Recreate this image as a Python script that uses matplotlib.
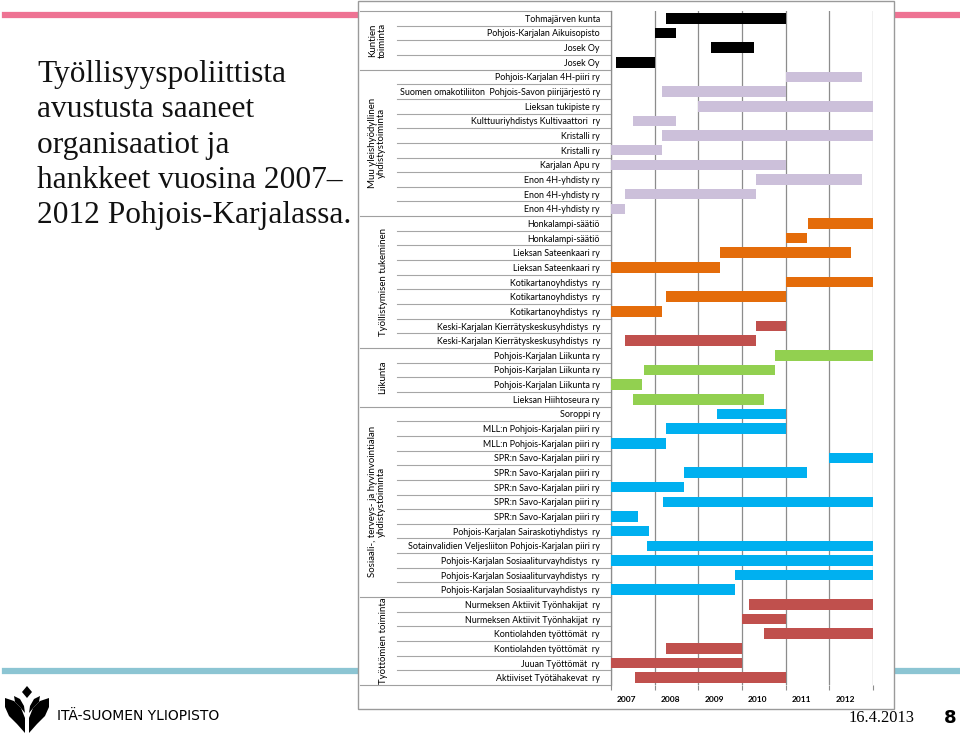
import matplotlib
matplotlib.use('Agg')
import matplotlib.pyplot as plt
from matplotlib.patches import Rectangle, Polygon
from matplotlib.lines import Line2D
from matplotlib.transforms import blended_transform_factory

# Groups (top to bottom) and how many rows each one holds
groups = ['Kuntien\ntoiminta',
          'Muu yleishyödyllinen\nyhdistystoiminta',
          'Työllistymisen tukeminen',
          'Liikunta',
          'Sosiaali-, terveys- ja hyvinvointialan\nyhdistystoiminta',
          'Työttömien toiminta']
group_sizes = [4, 10, 9, 4, 13, 6]

organisations = [
    'Tohmajärven kunta', 'Pohjois-Karjalan Aikuisopisto', 'Josek Oy', 'Josek Oy',
    'Pohjois-Karjalan 4H-piiri ry', 'Suomen omakotiliiton  Pohjois-Savon piirijärjestö ry',
    'Lieksan tukipiste ry', 'Kulttuuriyhdistys Kultivaattori  ry', 'Kristalli ry', 'Kristalli ry',
    'Karjalan Apu ry', 'Enon 4H-yhdisty ry', 'Enon 4H-yhdisty ry', 'Enon 4H-yhdisty ry',
    'Honkalampi-säätiö', 'Honkalampi-säätiö', 'Lieksan Sateenkaari ry', 'Lieksan Sateenkaari ry',
    'Kotikartanoyhdistys  ry', 'Kotikartanoyhdistys  ry', 'Kotikartanoyhdistys  ry',
    'Keski-Karjalan Kierrätyskeskusyhdistys  ry', 'Keski-Karjalan Kierrätyskeskusyhdistys  ry',
    'Pohjois-Karjalan Liikunta ry', 'Pohjois-Karjalan Liikunta ry', 'Pohjois-Karjalan Liikunta ry',
    'Lieksan Hiihtoseura ry',
    'Soroppi ry', 'MLL:n Pohjois-Karjalan piiri ry', 'MLL:n Pohjois-Karjalan piiri ry',
    'SPR:n Savo-Karjalan piiri ry', 'SPR:n Savo-Karjalan piiri ry', 'SPR:n Savo-Karjalan piiri ry',
    'SPR:n Savo-Karjalan piiri ry', 'SPR:n Savo-Karjalan piiri ry',
    'Pohjois-Karjalan Sairaskotiyhdistys  ry', 'Sotainvalidien Veljesliiton Pohjois-Karjalan piiri ry',
    'Pohjois-Karjalan Sosiaaliturvayhdistys  ry', 'Pohjois-Karjalan Sosiaaliturvayhdistys  ry',
    'Pohjois-Karjalan Sosiaaliturvayhdistys  ry',
    'Nurmeksen Aktiivit Työnhakijat  ry', 'Nurmeksen Aktiivit Työnhakijat  ry',
    'Kontiolahden työttömät  ry', 'Kontiolahden työttömät  ry', 'Juuan Työttömät  ry',
    'Aktiiviset Työtähakevat  ry']

# Funding periods in decimal years
starts = [2008.25, 2008.0, 2009.3, 2007.12,
          2011.0, 2008.16, 2009.0, 2007.5, 2008.16, 2007.0, 2007.0, 2010.33, 2007.33, 2007.0,
          2011.5, 2011.0, 2009.5, 2007.0, 2011.0, 2008.25, 2007.0, 2010.33, 2007.33,
          2010.75, 2007.75, 2007.0, 2007.5,
          2009.42, 2008.25, 2007.0, 2012.0, 2008.67, 2007.0, 2008.2, 2007.0, 2007.0, 2007.83,
          2007.0, 2009.83, 2007.0,
          2010.16, 2010.0, 2010.5, 2008.25, 2007.0, 2007.55]
ends = [2011.0, 2008.5, 2010.27, 2008.0,
        2012.75, 2011.0, 2013.0, 2008.5, 2013.0, 2008.16, 2011.0, 2012.75, 2010.33, 2007.33,
        2013.0, 2011.5, 2012.5, 2009.5, 2013.0, 2011.0, 2008.16, 2011.0, 2010.33,
        2013.0, 2010.75, 2007.7, 2010.5,
        2011.0, 2011.0, 2008.25, 2013.0, 2011.5, 2008.67, 2013.0, 2007.62, 2007.88, 2013.0,
        2013.0, 2013.0, 2009.83,
        2013.0, 2011.0, 2013.0, 2010.0, 2010.0, 2011.0]

# Kind of activity of every row, used to pick the bar colour
kinds = (['kunta'] * 4 + ['yleis'] * 10 + ['tyo'] * 7 + ['kierratys'] * 2
         + ['liikunta'] * 4 + ['sosiaali'] * 13 + ['tyottomat'] * 6)

years = [2007, 2008, 2009, 2010, 2011, 2012]

palette = {'kunta': '#000000', 'yleis': '#ccc0da', 'tyo': '#e46c0a',
           'kierratys': '#c0504d', 'liikunta': '#92d050', 'sosiaali': '#00b0f0',
           'tyottomat': '#c0504d'}

W, H = 960, 738
fig = plt.figure(figsize=(W / 100, H / 100), dpi=100)
fig.patch.set_facecolor('white')


def fx(px):
    return px / W


def fy(py):
    return 1 - py / H


# Slide decoration: pink band on top, blue band at bottom, white chart box
fig.add_artist(Line2D([fx(5), fx(957)], [fy(15), fy(15)], color='#ee7393', lw=4.5, zorder=-3))
fig.add_artist(Line2D([fx(5), fx(957)], [fy(671), fy(671)], color='#8cc5d3', lw=4.5, zorder=-3))
fig.add_artist(Rectangle((fx(358), fy(709)), fx(894) - fx(358), fy(1) - fy(709),
                         facecolor='white', edgecolor='#9a9a9a', lw=1.0, zorder=-2))

title_lines = ['Työllisyyspoliittista', 'avustusta saaneet', 'organisaatiot ja',
               'hankkeet vuosina 2007–', '2012 Pohjois-Karjalassa.']
for i, line in enumerate(title_lines):
    fig.text(fx(37), fy(82 + i * 35.3), line, family='Liberation Serif', fontsize=22.6,
             va='baseline', ha='left', color='#111111')

fig.text(fx(915), fy(718), '16.4.2013', family='Liberation Serif', fontsize=11.8,
         ha='right', va='center')
fig.text(fx(950), fy(718), '8', family='DejaVu Sans', fontsize=13, fontweight='bold',
         ha='center', va='center')
fig.text(fx(57), fy(716), 'ITÄ-SUOMEN YLIOPISTO', family='DejaVu Sans', fontsize=10,
         ha='left', va='center')

# Rough university logo
logo_shapes = [
    [(27, 686), (32, 692), (27, 698), (22, 692)],
    [(5, 698), (14, 701), (21, 708), (25, 718), (25, 733), (17, 724), (9, 716), (5, 707)],
    [(49, 698), (40, 701), (33, 708), (29, 718), (29, 733), (37, 724), (45, 716), (49, 707)],
    [(14, 696), (20, 699), (24, 706), (25, 713), (20, 707), (15, 702)],
    [(40, 696), (34, 699), (30, 706), (29, 713), (34, 707), (39, 702)],
]
for shape in logo_shapes:
    fig.add_artist(Polygon([(fx(x), fy(y)) for x, y in shape], closed=True,
                           facecolor='black', edgecolor='none'))

# Chart area
ax = fig.add_axes([fx(611), fy(685), fx(873) - fx(611), fy(11) - fy(685)])
n = len(organisations)
rows = list(range(n))
ax.barh(rows, [e - s for s, e in zip(starts, ends)], left=starts, height=0.72,
        color=[palette[k] for k in kinds], zorder=3)

ax.set_xlim(2007, 2013)
ax.set_ylim(n - 0.5, -0.5)

ax.set_xticks(list(range(2007, 2014)))
ax.set_xticklabels([])
ax.set_xticks([y + 0.36 for y in years], minor=True)
ax.set_xticklabels([str(y) for y in years], minor=True, fontsize=6, fontweight='bold',
                   family='Lato')
ax.tick_params(axis='x', which='major', length=3.5, color='#8c8c8c', width=0.8)
ax.tick_params(axis='x', which='minor', length=0, pad=8)
ax.grid(axis='x', which='major', color='#8c8c8c', lw=0.9, zorder=1)

ax.set_yticks(rows)
ax.set_yticklabels(organisations, fontsize=6.4, family='Lato')
ax.tick_params(axis='y', length=0, pad=8)

for side in ['top', 'right', 'bottom']:
    ax.spines[side].set_visible(False)
ax.spines['left'].set_color('#8c8c8c')
ax.spines['left'].set_linewidth(0.9)


def ax_x(px):
    return (px - 611) / 262.0


trans = blended_transform_factory(ax.transAxes, ax.transData)

# Table lines between rows and between groups, plus rotated group names
row = 0
ax.plot([ax_x(360), 0], [-0.5, -0.5], transform=trans, color='#a0a0a0', lw=0.8, clip_on=False)
for name, size in zip(groups, group_sizes):
    for k in range(1, size):
        ax.plot([ax_x(397), 0], [row + k - 0.5, row + k - 0.5], transform=trans,
                color='#a6a6a6', lw=0.8, clip_on=False)
    bottom = row + size - 0.5
    ax.plot([ax_x(360), 0], [bottom, bottom], transform=trans, color='#a0a0a0', lw=0.8,
            clip_on=False)
    centre = row + (size - 1) / 2.0
    xpos = ax_x(377) if '\n' in name else ax_x(383)
    ax.text(xpos, centre, name, transform=trans, rotation=90, ha='center', va='center',
            fontsize=6.9, family='Lato', multialignment='center', linespacing=1.1)
    row += size

fig.savefig('out.png', dpi=100)
